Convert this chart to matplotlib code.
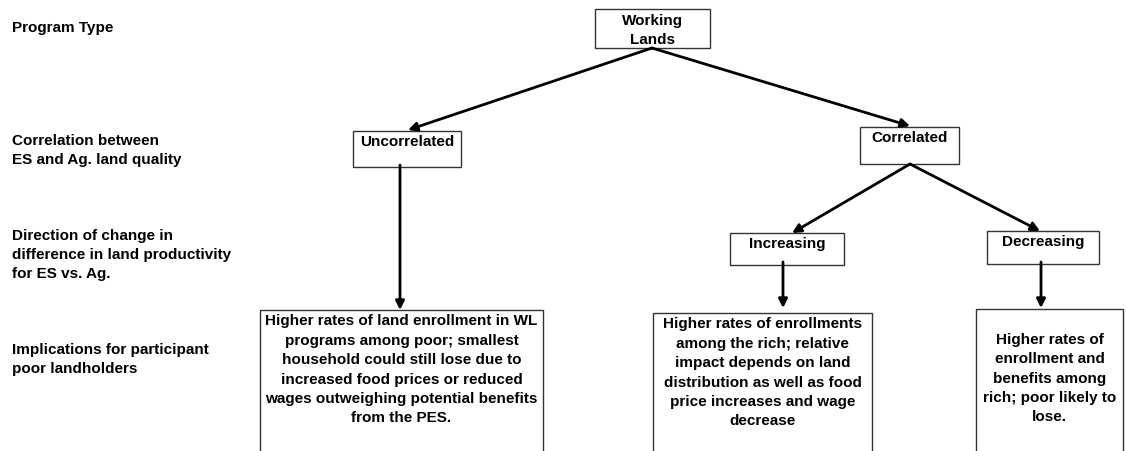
import matplotlib
matplotlib.use('Agg')
import matplotlib.pyplot as plt
from matplotlib.patches import Rectangle

plt.rcParams['font.family'] = ['Liberation Sans', 'DejaVu Sans']
plt.rcParams['font.weight'] = 'bold'

# Etiquetas de los niveles (columna izquierda)
level_labels = [
    'Program Type',
    'Correlation between\nES and Ag. land quality',
    'Direction of change in\ndifference in land productivity\nfor ES vs. Ag.',
    'Implications for participant\npoor landholders',
]

# Textos de los nodos
node_names = ['working', 'uncorr', 'corr', 'incr', 'decr', 'imp_left', 'imp_mid', 'imp_right']
node_texts = [
    'Working\nLands',
    'Uncorrelated',
    'Correlated',
    'Increasing',
    'Decreasing',
    'Higher rates of land enrollment in WL\nprograms among poor; smallest\nhousehold could still lose due to\n'
    'increased food prices or reduced\nwages outweighing potential benefits\nfrom the PES.',
    'Higher rates of enrollments\namong the rich; relative\nimpact depends on land\n'
    'distribution as well as food\nprice increases and wage\ndecrease',
    '\nHigher rates of\nenrollment and\nbenefits among\nrich; poor likely to\nlose.',
]

# Conexiones entre nodos (padre, hijo)
edges = [('working', 'uncorr'), ('working', 'corr'), ('corr', 'incr'),
         ('corr', 'decr'), ('uncorr', 'imp_left'), ('incr', 'imp_mid'),
         ('decr', 'imp_right')]

# Posiciones en pixeles: x0, y0, x1, y1 de cada caja
layout = {
    'working': (595, 10, 710, 49),
    'uncorr': (353, 132, 461, 168),
    'corr': (860, 128, 959, 165),
    'incr': (730, 234, 844, 266),
    'decr': (987, 232, 1099, 265),
    'imp_left': (260, 311, 543, 470),
    'imp_mid': (653, 314, 872, 470),
    'imp_right': (976, 310, 1123, 470),
}
# Puntos de salida y llegada de las flechas
arrow_pts = {
    ('working', 'uncorr'): ((652, 49), (408, 131)),
    ('working', 'corr'): ((652, 49), (910, 127)),
    ('corr', 'incr'): ((910, 165), (792, 234)),
    ('corr', 'decr'): ((910, 165), (1040, 232)),
    ('uncorr', 'imp_left'): ((400, 166), (400, 311)),
    ('incr', 'imp_mid'): ((783, 263), (783, 309)),
    ('decr', 'imp_right'): ((1041, 263), (1041, 309)),
}
level_y = [28, 141, 236, 350]

fig = plt.figure(figsize=(11.26, 4.52), dpi=100)
ax = fig.add_axes([0, 0, 1, 1])
ax.set_xlim(0, 1126)
ax.set_ylim(452, 0)
ax.axis('off')

for lab, y in zip(level_labels, level_y):
    ax.text(12, y - 7, lab, ha='left', va='top', fontsize=11, linespacing=1.45)

for name, txt in zip(node_names, node_texts):
    x0, y0, x1, y1 = layout[name]
    ax.add_patch(Rectangle((x0, y0), x1 - x0, y1 - y0, fill=False,
                           edgecolor='#333333', lw=1.0))
    ax.text((x0 + x1) / 2, y0 + 3.5, txt, ha='center', va='top', fontsize=11,
            multialignment='center', linespacing=1.49)

for e in edges:
    (xs, ys), (xe, ye) = arrow_pts[e]
    ax.annotate('', xy=(xe, ye), xytext=(xs, ys),
                arrowprops=dict(arrowstyle='-|>', lw=2, color='black',
                                mutation_scale=13, shrinkA=0, shrinkB=0))

fig.savefig('out.png', dpi=100)
